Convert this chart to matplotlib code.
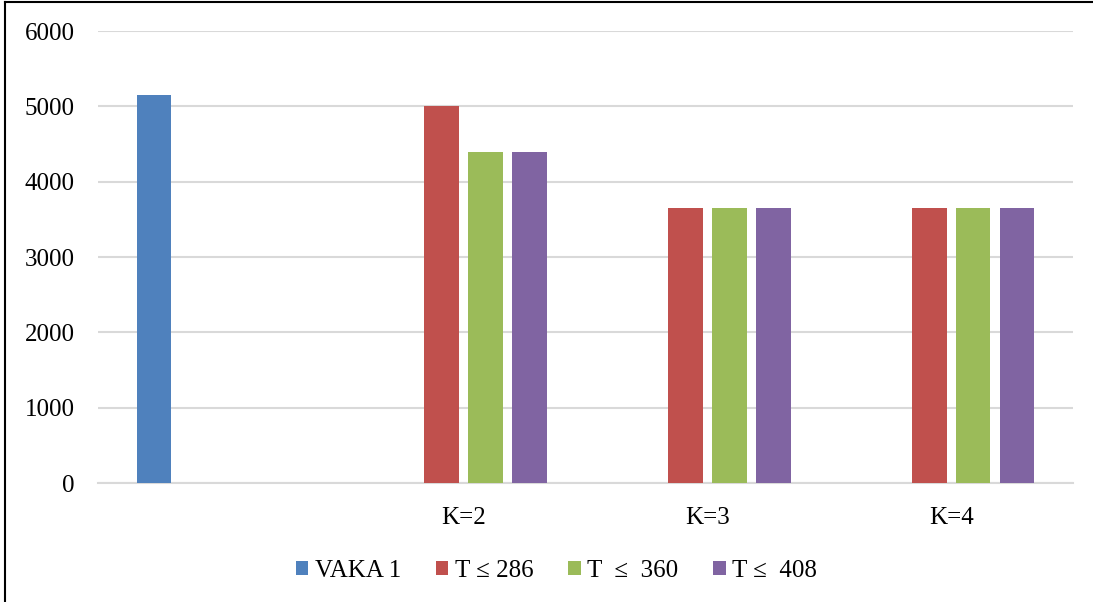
import matplotlib.pyplot as plt
import numpy as np
from matplotlib.lines import Line2D

plt.rcParams['font.family'] = ['Liberation Serif', 'DejaVu Serif']

categories = ['', 'K=2', 'K=3', 'K=4']
vaka1 = [5150, np.nan, np.nan, np.nan]
t286 = [np.nan, 5000, 3650, 3650]
t360 = [np.nan, 4400, 3650, 3650]
t408 = [np.nan, 4400, 3650, 3650]

series = [
    ('VAKA 1', vaka1, '#4f81bd'),
    ('T \u2264 286', t286, '#c0504d'),
    ('T  \u2264  360', t360, '#9bbb59'),
    ('T \u2264  408', t408, '#8064a2'),
]

fig = plt.figure(figsize=(10.93, 6.02), dpi=100)
ax = fig.add_axes([98 / 1093, 1 - 483 / 602, 975 / 1093, 452 / 602])

x = np.arange(len(categories))
step = 0.18
width = 0.143
for i, (name, vals, col) in enumerate(series):
    ax.bar(x + (i - 1.5) * step, vals, width, color=col, label=name, zorder=3)

ax.set_xlim(-0.5, 3.5)
ax.set_ylim(0, 6000)
ax.set_yticks(range(0, 6001, 1000))
ax.set_xticks(x)
ax.set_xticklabels(categories)
ax.yaxis.grid(True, color='#d9d9d9', linewidth=1.5, zorder=0)
for s in ['top', 'right', 'left']:
    ax.spines[s].set_visible(False)
ax.spines['bottom'].set_color('#d9d9d9')
ax.spines['bottom'].set_linewidth(1.5)
ax.tick_params(axis='both', length=0, labelsize=18, colors='black')
ax.tick_params(axis='y', pad=17)
ax.tick_params(axis='x', pad=17)

ax.legend(loc='center', bbox_to_anchor=(0.47, -0.195), ncol=4, frameon=False,
          fontsize=18, handlelength=0.5, handleheight=0.5, handletextpad=0.25,
          columnspacing=1.4)

# outer frame: left and top edges
fig.add_artist(Line2D([5 / 1093, 5 / 1093], [0, 1 - 2 / 602], transform=fig.transFigure,
                      color='black', linewidth=1.5))
fig.add_artist(Line2D([5 / 1093, 1], [1 - 2 / 602, 1 - 2 / 602], transform=fig.transFigure,
                      color='black', linewidth=1.5))

fig.savefig('out.png', dpi=100)
